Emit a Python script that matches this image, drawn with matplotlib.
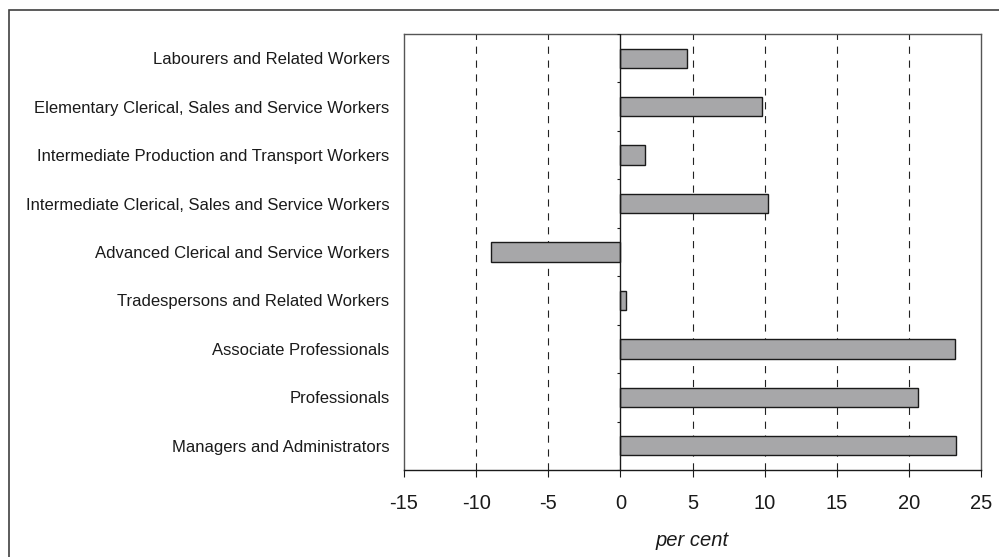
import numpy as np
import matplotlib.pyplot as plt
from matplotlib.patches import Rectangle

# occupations listed top to bottom as in the chart
occupations = [
    "Labourers and Related Workers",
    "Elementary Clerical, Sales and Service Workers",
    "Intermediate Production and Transport Workers",
    "Intermediate Clerical, Sales and Service Workers",
    "Advanced Clerical and Service Workers",
    "Tradespersons and Related Workers",
    "Associate Professionals",
    "Professionals",
    "Managers and Administrators",
]
change = [4.65, 9.85, 1.7, 10.25, -8.95, 0.4, 23.2, 20.6, 23.3]
xticks = [-15, -10, -5, 0, 5, 10, 15, 20, 25]

plt.rcParams["font.family"] = ["Liberation Sans", "DejaVu Sans"]

fig = plt.figure(figsize=(9.99, 5.57), dpi=100)
ax = fig.add_axes([404 / 999, 1 - 470 / 557, 577 / 999, 436 / 557])

# outer frame (right and bottom edges fall outside the picture)
fig.patches.append(Rectangle((9 / 999, -0.05), 1.1, 1 - 10 / 557 + 0.05,
                             transform=fig.transFigure, fill=False,
                             edgecolor="#404040", linewidth=1.2))

n = len(occupations)
ypos = np.arange(n)[::-1]

for x in xticks[1:-1]:
    if x == 0:
        continue
    ax.axvline(x, color="#222222", linewidth=0.8, linestyle=(0, (6.5, 6)), zorder=1)

ax.barh(ypos, change, height=0.4, color="#a7a7a9", edgecolor="#1a1a1a",
        linewidth=1.0, zorder=3)

ax.set_xlim(-15, 25)
ax.set_ylim(-0.5, n - 0.5)

# zero axis with ticks at category boundaries
ax.axvline(0, color="#1a1a1a", linewidth=1.0, zorder=4)
for b in np.arange(n + 1) - 0.5:
    ax.plot([-0.25, 0], [b, b], color="#1a1a1a", linewidth=0.8, zorder=4,
            solid_capstyle="butt")

ax.set_yticks(ypos)
ax.set_yticklabels(occupations, fontsize=12, color="#1a1a1a")
ax.tick_params(axis="y", length=0, pad=10.5)

ax.set_xticks(xticks)
ax.set_xticklabels([str(v) for v in xticks], fontsize=14.5, color="#1a1a1a")
ax.tick_params(axis="x", direction="out", length=5, width=0.8, pad=12,
               colors="#1a1a1a")
ax.set_xlabel("per cent", fontsize=14.5, style="italic", labelpad=13,
              color="#1a1a1a")

for side in ["top", "left", "right"]:
    ax.spines[side].set_color("#555555")
    ax.spines[side].set_linewidth(1.0)
ax.spines["bottom"].set_color("#1a1a1a")
ax.spines["bottom"].set_linewidth(1.0)

fig.savefig("out.png", dpi=100)
